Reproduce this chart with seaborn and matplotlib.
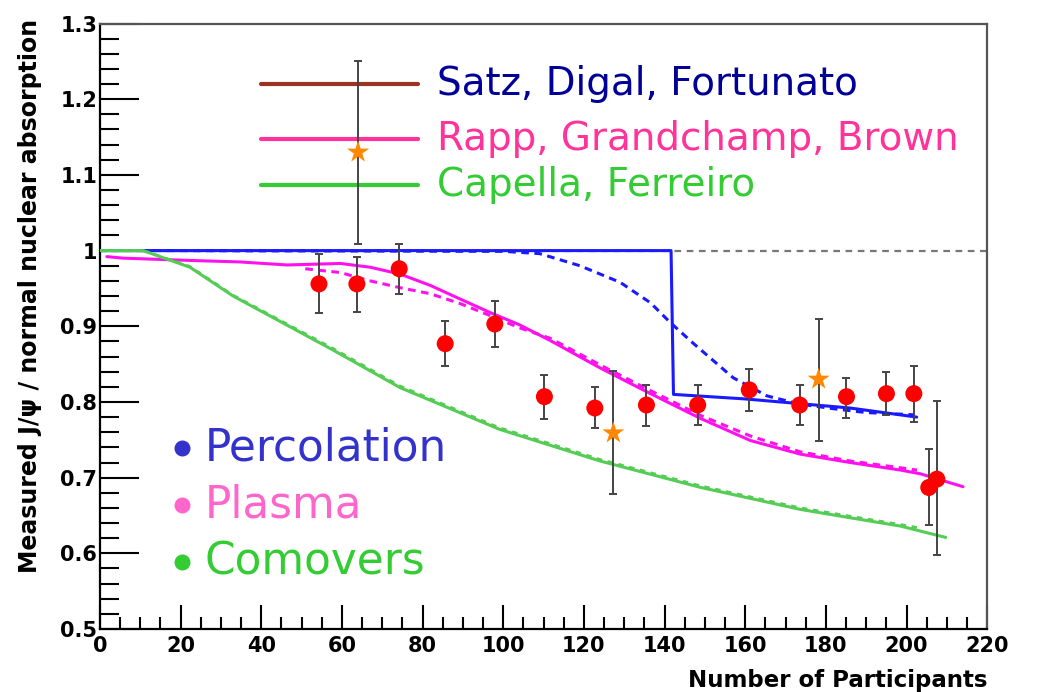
import numpy as np
import matplotlib
matplotlib.use("Agg")
import matplotlib.pyplot as plt
from matplotlib.ticker import MultipleLocator, FuncFormatter
import seaborn as sns

# measured points (red circles)
npart = [54.3, 63.7, 74.2, 85.6, 97.9, 110.2, 122.7, 135.5, 148.2, 161.0,
         173.5, 185.1, 195.0, 201.8, 205.5, 207.5]
ratio = [0.956, 0.956, 0.976, 0.877, 0.903, 0.807, 0.792, 0.796, 0.796, 0.816,
         0.796, 0.807, 0.811, 0.811, 0.687, 0.698]
err_up = [0.995, 0.992, 1.009, 0.907, 0.933, 0.835, 0.820, 0.823, 0.823, 0.844,
          0.822, 0.832, 0.840, 0.847, 0.738, 0.801]
err_lo = [0.917, 0.919, 0.942, 0.848, 0.873, 0.778, 0.765, 0.768, 0.769, 0.788,
          0.769, 0.779, 0.783, 0.774, 0.638, 0.598]

# stars
star_x = [64.0, 127.3, 178.2]
star_y = [1.130, 0.759, 0.830]
star_up = [1.250, 0.841, 0.910]
star_lo = [1.009, 0.679, 0.749]

# Satz, Digal, Fortunato (percolation)
perc_x = [0, 141.6, 142.2, 160, 186, 202.5]
perc_y = [1.0, 1.0, 0.810, 0.804, 0.792, 0.780]
perc_dash_x = [10, 100, 109, 119, 129, 136.5, 141.4, 147, 157, 165.4, 173.7, 182, 190, 202]
perc_dash_y = [1.0, 0.999, 0.996, 0.980, 0.958, 0.931, 0.905, 0.878, 0.832, 0.808,
               0.797, 0.791, 0.786, 0.783]

# Rapp, Grandchamp, Brown (plasma)
plas_x = [1.7, 5.8, 22.3, 34.7, 46.4, 59.6, 67, 74.4, 81.9, 89.3, 96.8, 104, 111.7,
          124, 136.5, 149, 161.3, 173.7, 186, 198.5, 203.5, 214]
plas_y = [0.992, 0.990, 0.987, 0.985, 0.981, 0.983, 0.978, 0.969, 0.954, 0.936, 0.918,
          0.902, 0.881, 0.845, 0.811, 0.778, 0.749, 0.731, 0.720, 0.710, 0.705, 0.688]
plas_dash_x = [50.9, 59.6, 67, 74.4, 81.9, 89.3, 96.8, 104, 111.7, 124, 136.5, 149,
               161.3, 173.7, 186, 198.5, 202.6]
plas_dash_y = [0.976, 0.971, 0.960, 0.951, 0.943, 0.930, 0.914, 0.898, 0.884, 0.849,
               0.815, 0.782, 0.755, 0.734, 0.722, 0.713, 0.710]

# Capella, Ferreiro (comovers)
com_x = [0, 10.7, 22.3, 33, 58, 74.4, 99, 124, 149, 173.7, 186, 198.5, 209.7]
com_y = [1.0, 1.0, 0.978, 0.940, 0.868, 0.819, 0.764, 0.722, 0.687, 0.658, 0.647,
         0.636, 0.621]
com_dash_x = [0, 10.7, 22.3, 33, 58, 74.4, 99, 124, 149, 173.7, 186, 198.5, 202.7]
com_dash_y = [1.0, 1.0, 0.979, 0.941, 0.870, 0.821, 0.766, 0.724, 0.689, 0.660, 0.649,
              0.638, 0.634]

sns.set_style("white")
plt.rcParams["font.family"] = ["DejaVu Sans"]

fig = plt.figure(figsize=(10.39, 6.92), dpi=100)
ax = fig.add_axes([0.0962, 0.091, 0.854, 0.875])

# reference line at 1
ax.axhline(1.0, color="#777777", lw=1.6, ls=(0, (3, 2.5)), zorder=1)

sns.lineplot(x=perc_x, y=perc_y, sort=False, estimator=None, color="#1a1aff",
             lw=2.2, ax=ax, zorder=3)
sns.lineplot(x=perc_dash_x, y=perc_dash_y, sort=False, estimator=None, color="#1a1aff",
             lw=2.2, ls=(0, (2.5, 1.8)), ax=ax, zorder=3)
sns.lineplot(x=plas_x, y=plas_y, sort=False, estimator=None, color="#ff11ee",
             lw=2.2, ax=ax, zorder=3)
sns.lineplot(x=plas_dash_x, y=plas_dash_y, sort=False, estimator=None, color="#ff11ee",
             lw=2.2, ls=(0, (2.5, 1.8)), ax=ax, zorder=3)
sns.lineplot(x=com_dash_x, y=com_dash_y, sort=False, estimator=None, color="#55cc55",
             lw=2.0, ls=(0, (2, 2)), ax=ax, zorder=3)
sns.lineplot(x=com_x, y=com_y, sort=False, estimator=None, color="#55cc55",
             lw=2.2, ax=ax, zorder=4)

# error bars
y = np.array(ratio)
ax.errorbar(npart, ratio, yerr=[y - np.array(err_lo), np.array(err_up) - y],
            fmt="none", ecolor="#444444", elinewidth=1.4, capsize=3, capthick=1.4, zorder=5)
sy = np.array(star_y)
ax.errorbar(star_x, star_y, yerr=[sy - np.array(star_lo), np.array(star_up) - sy],
            fmt="none", ecolor="#444444", elinewidth=1.4, capsize=3, capthick=1.4, zorder=5)

sns.scatterplot(x=npart, y=ratio, color="#ff0000", s=150, edgecolor="none", ax=ax, zorder=6)
sns.scatterplot(x=star_x, y=star_y, color="#ff8800", marker="*", s=280, edgecolor="none",
                ax=ax, zorder=6)

ax.set_xlim(0, 220)
ax.set_ylim(0.5, 1.3)
ax.xaxis.set_major_locator(MultipleLocator(20))
ax.xaxis.set_minor_locator(MultipleLocator(5))
ax.yaxis.set_major_locator(MultipleLocator(0.1))
ax.yaxis.set_minor_locator(MultipleLocator(0.02))
ax.yaxis.set_major_formatter(FuncFormatter(lambda v, p: f"{v:g}"))
ax.tick_params(axis="both", which="both", direction="in", color="black", width=1.5,
               labelsize=15, labelcolor="black", top=False, right=False,
               left=True, bottom=True)
ax.tick_params(axis="y", which="major", length=28, pad=2)
ax.tick_params(axis="y", which="minor", length=14)
ax.tick_params(axis="x", which="major", length=17, pad=5)
ax.tick_params(axis="x", which="minor", length=9)
for lab in ax.get_xticklabels() + ax.get_yticklabels():
    lab.set_fontweight("bold")

for side in ["left", "bottom"]:
    ax.spines[side].set_color("black")
    ax.spines[side].set_linewidth(1.6)
for side in ["top", "right"]:
    ax.spines[side].set_color("#555555")
    ax.spines[side].set_linewidth(1.6)

fig.text(0.029, 0.572, "Measured J/\u03c8 / normal nuclear absorption", rotation=90,
         ha="center", va="center", fontsize=17, fontweight="bold", color="black")
fig.text(0.95, 0.017, "Number of Participants", ha="right", va="center",
         fontsize=16.5, fontweight="bold", color="black")

# model legend
leg_names = ["Satz, Digal, Fortunato", "Rapp, Grandchamp, Brown", "Capella, Ferreiro"]
leg_line_colors = ["#993322", "#ff3399", "#33cc33"]
leg_text_colors = ["#000099", "#ff3399", "#33cc33"]
leg_y = [1.22, 1.148, 1.086]
for name, lc, tc, ly in zip(leg_names, leg_line_colors, leg_text_colors, leg_y):
    ax.plot([39.9, 78.9], [ly, ly], color=lc, lw=3, zorder=4)
    ax.text(83.6, ly, name, color=tc, fontsize=28, va="center", ha="left")

# category labels
cat_names = ["Percolation", "Plasma", "Comovers"]
cat_colors = ["#3333cc", "#ff66cc", "#33cc33"]
cat_y = [0.739, 0.664, 0.588]
for name, c, cy in zip(cat_names, cat_colors, cat_y):
    ax.plot([20.4], [cy], "o", color=c, ms=10.5, zorder=4)
    ax.text(26, cy, name, color=c, fontsize=31.5, va="center", ha="left")

fig.savefig("out.png", dpi=100)
